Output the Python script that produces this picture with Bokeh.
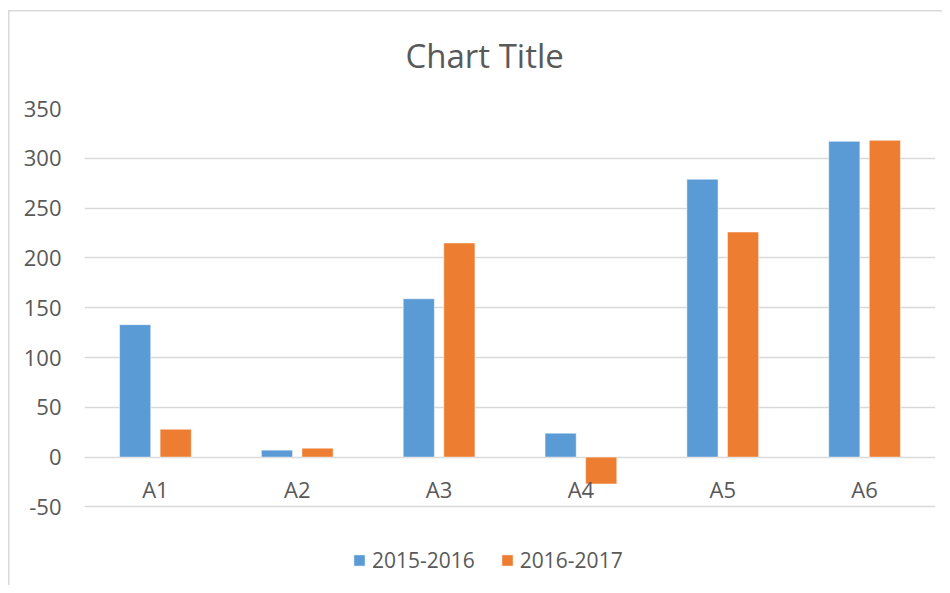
from bokeh.plotting import figure
from bokeh.models import ColumnDataSource, FactorRange, Range1d, FixedTicker, Legend, LegendItem
from bokeh.transform import dodge
from bokeh.embed import file_html
from bokeh.resources import INLINE

categories = ["A1", "A2", "A3", "A4", "A5", "A6"]
series_2015_2016 = [133, 7, 159, 24, 279, 317]
series_2016_2017 = [28, 9, 215, -27, 226, 318]
y_ticks = [-50, 0, 50, 100, 150, 200, 250, 300, 350]
y_tick_labels = ["-50", "0", "50", "100", "150", "200", "250", "300", "350"]

BLUE = "#5B9BD5"
ORANGE = "#ED7D31"
GRID = "#D9D9D9"
TEXT = "#595959"
FONT = "Open Sans"

W, H = 942, 585
TOP, LEFT, RIGHT = 108, 84, 7
frame_h = H - TOP
y_max = y_ticks[-1]
y_min = y_max - frame_h * 50 / 49.8   # frame reaches the figure bottom to hold the legend

src = ColumnDataSource(dict(cat=categories, a=series_2015_2016, b=series_2016_2017,
                            zero=[0] * len(categories)))

p = figure(width=W, height=H, output_backend="svg", toolbar_location=None,
           x_range=FactorRange(*categories, range_padding=0),
           y_range=Range1d(y_min, y_max),
           min_border_left=LEFT, min_border_top=TOP, min_border_right=RIGHT, min_border_bottom=0)

# light chart-area border on the left and top (drawn as CSS shadows, no layout change)
p.styles = {"box-shadow": "inset 8px 0 0 #FFFFFF, inset 0 10px 0 #FFFFFF, "
                          "inset 9.5px 0 0 #D9D9D9, inset 0 11.5px 0 #D9D9D9"}

p.outline_line_color = None
p.background_fill_color = "white"
p.border_fill_color = None

r1 = p.vbar(x=dodge("cat", -0.143, range=p.x_range), top="a", bottom=0, width=0.22, source=src,
            fill_color=BLUE, line_color="white", line_alpha=0.5, line_width=1)
r2 = p.vbar(x=dodge("cat", 0.143, range=p.x_range), top="b", bottom=0, width=0.22, source=src,
            fill_color=ORANGE, line_color="white", line_alpha=0.5, line_width=1)

# category labels next to the zero line
p.text(x="cat", y="zero", text="cat", source=src, y_offset=32,
       text_align="center", text_baseline="middle",
       text_font={"value": FONT}, text_font_size={"value": "22px"}, text_color=TEXT)

# grid
p.xgrid.grid_line_color = None
p.ygrid.grid_line_color = GRID
p.ygrid.grid_line_width = 1.5
p.yaxis.ticker = FixedTicker(ticks=y_ticks)
p.yaxis.major_label_overrides = dict(zip(y_ticks, y_tick_labels))
p.xaxis.visible = False

# y axis
p.yaxis.axis_line_color = None
p.yaxis.major_tick_line_color = None
p.yaxis.minor_tick_line_color = None
p.yaxis.major_label_standoff = 17
p.yaxis.major_label_text_font = FONT
p.yaxis.major_label_text_font_size = "22px"
p.yaxis.major_label_text_color = TEXT

# title
p.title.text = "Chart Title"
p.title.align = "left"
p.title.offset = 321
p.title.text_font = FONT
p.title.text_font_size = "33px"
p.title.text_font_style = "normal"
p.title.text_color = TEXT
p.title.standoff = 61

legend = Legend(items=[LegendItem(label="2015-2016", renderers=[r1]),
                       LegendItem(label="2016-2017", renderers=[r2])],
                orientation="horizontal", location=(268, 11),
                glyph_width=14, glyph_height=14, label_standoff=6, spacing=25,
                padding=0, margin=0, border_line_color=None, background_fill_alpha=0,
                label_text_font=FONT, label_text_font_size="21px", label_text_color=TEXT)
p.add_layout(legend, "center")

open("out.html", "w").write(file_html(p, INLINE))
